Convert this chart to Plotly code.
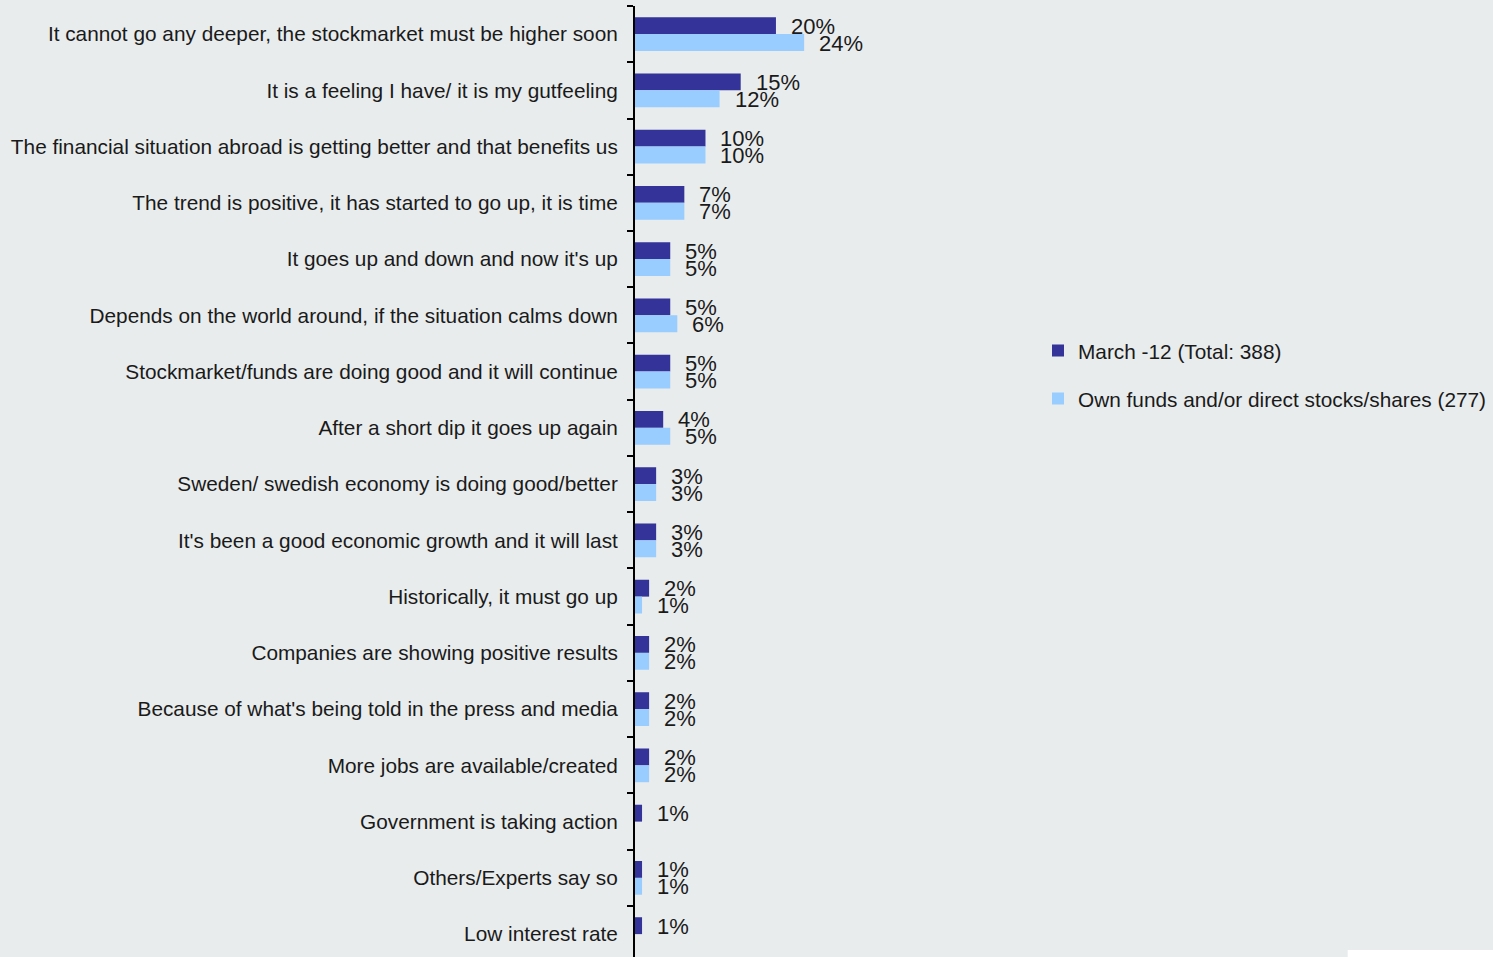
import plotly.graph_objects as go

categories = [
    "It cannot go any deeper, the stockmarket must be higher soon",
    "It is a feeling I have/ it is my gutfeeling",
    "The financial situation abroad is getting better and that benefits us",
    "The trend is positive, it has started to go up, it is time",
    "It goes up and down and now it's up",
    "Depends on the world around, if the situation calms down",
    "Stockmarket/funds are doing good and it will continue",
    "After a short dip it goes up again",
    "Sweden/ swedish economy is doing good/better",
    "It's been a good economic growth and it will last",
    "Historically, it must go up",
    "Companies are showing positive results",
    "Because of what's being told in the press and media",
    "More jobs are available/created",
    "Government is taking action",
    "Others/Experts say so",
    "Low interest rate",
]

march_total = [20, 15, 10, 7, 5, 5, 5, 4, 3, 3, 2, 2, 2, 2, 1, 1, 1]
own_funds = [24, 12, 10, 7, 5, 6, 5, 5, 3, 3, 1, 2, 2, 2, None, 1, None]

series_names = ["March -12 (Total: 388)", "Own funds and/or direct stocks/shares (277)"]
series_colors = ["#333399", "#99ccff"]
series_values = [march_total, own_funds]
label_yshift = [8, -9]

bg = "#e8eced"
font_family = "Liberation Sans, Arial, sans-serif"

fig = go.Figure()
for i, (name, vals, col) in enumerate(zip(series_names, series_values, series_colors)):
    fig.add_trace(go.Bar(
        y=categories, x=vals, name=name, orientation="h",
        marker=dict(color=col, line=dict(width=0)),
        legendgroup=f"g{i}",
    ))

annotations = []
for vals, dy in zip(series_values, label_yshift):
    for cat, v in zip(categories, vals):
        if v is None:
            continue
        annotations.append(dict(
            x=v, y=cat, xref="x", yref="y", text=f"{v}%",
            showarrow=False, xanchor="left", yanchor="middle",
            xshift=13, yshift=dy,
            font=dict(family=font_family, size=22, color="#1a1a1a"),
        ))

fig.update_layout(
    width=1493, height=957,
    margin=dict(l=635, r=452, t=6, b=0),
    paper_bgcolor=bg, plot_bgcolor=bg,
    barmode="group", bargap=0.4, bargroupgap=0,
    font=dict(family=font_family, size=21, color="#1a1a1a"),
    showlegend=True,
    legend=dict(
        xref="container", yref="container",
        x=1038 / 1493, y=1 - 375 / 957, xanchor="left", yanchor="middle",
        bgcolor="rgba(0,0,0,0)", borderwidth=0,
        font=dict(family=font_family, size=20.8, color="#1a1a1a"),
        tracegroupgap=18, itemclick=False,
    ),
    annotations=annotations,
    shapes=[dict(type="rect", xref="paper", yref="paper",
                 x0=(1353 - 635) / 406, x1=(1505 - 635) / 406, y0=0, y1=7 / 951,
                 fillcolor="white", line=dict(width=0), layer="above")],
)

fig.update_xaxes(range=[0, 406 / 7.1], showgrid=False, zeroline=False,
                 showticklabels=False, showline=False, ticks="")
fig.update_yaxes(
    range=[16.407, -0.5], showgrid=False, zeroline=False,
    showline=True, linecolor="black", linewidth=2,
    ticks="outside", tickson="boundaries", ticklen=6, tickwidth=2, tickcolor="black",
    ticklabelstandoff=11,
    tickfont=dict(family=font_family, size=20.8, color="#1a1a1a"),
)

fig.write_html("out.html")
